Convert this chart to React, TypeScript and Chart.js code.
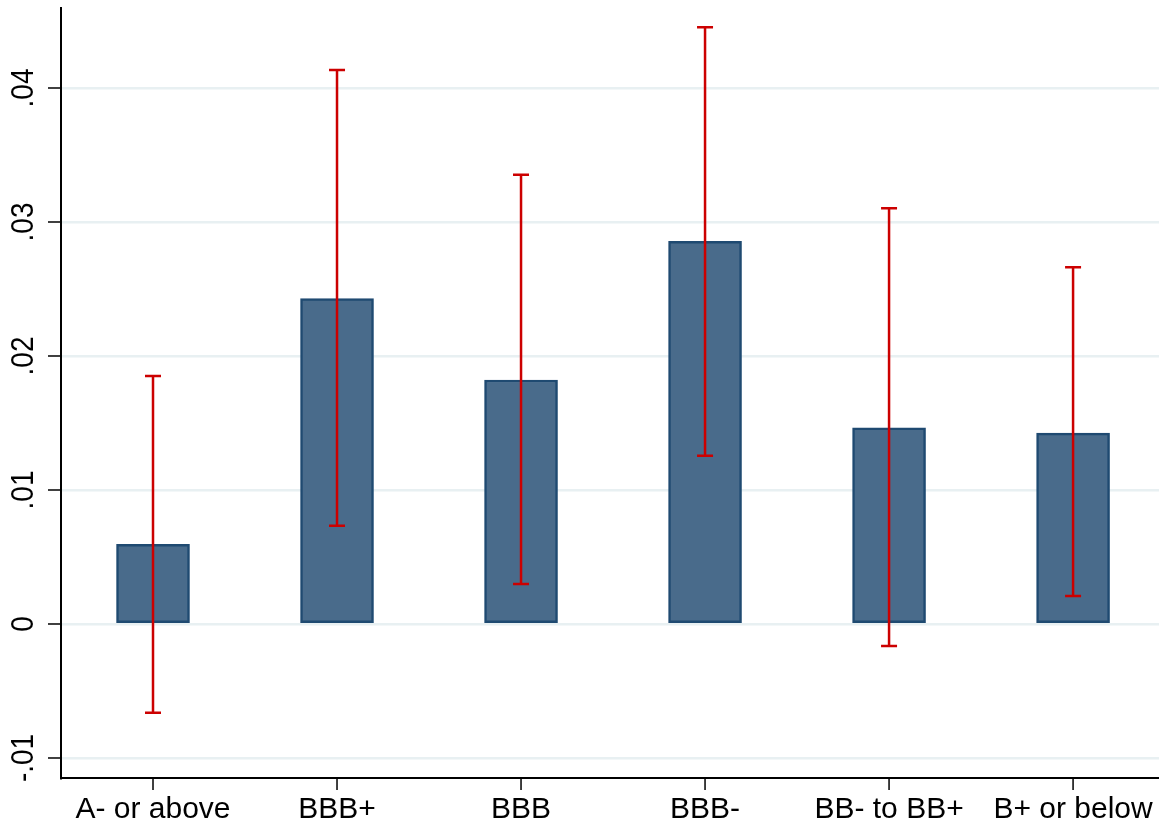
import React, { useEffect, useRef } from "react";
import { Chart, registerables } from "chart.js";

Chart.register(...registerables);

const categories = ["A- or above", "BBB+", "BBB", "BBB-", "BB- to BB+", "B+ or below"];
const estimates = [0.00595, 0.02428, 0.01821, 0.02856, 0.01463, 0.01425];
const ciLower = [-0.00662, 0.00734, 0.00299, 0.01256, -0.00164, 0.00209];
const ciUpper = [0.01851, 0.04134, 0.03353, 0.04453, 0.03102, 0.02662];
const yTicks = [-0.01, 0, 0.01, 0.02, 0.03, 0.04];
const yTickLabels = ["-.01", "0", ".01", ".02", ".03", ".04"];

const FONT_FAMILY = "'Liberation Sans', Arial, Helvetica, sans-serif";

const overlayPlugin = {
  id: "stataOverlay",
  afterDatasetsDraw(chart: any) {
    const { ctx, scales } = chart;
    const xs = scales.x;
    const ys = scales.y;
    ctx.save();
    ctx.strokeStyle = "#CC0000";
    ctx.lineWidth = 2.5;
    ctx.lineCap = "butt";
    for (let i = 0; i < categories.length; i++) {
      const x = xs.getPixelForValue(i);
      const yl = ys.getPixelForValue(ciLower[i]);
      const yh = ys.getPixelForValue(ciUpper[i]);
      ctx.beginPath();
      ctx.moveTo(x, yl);
      ctx.lineTo(x, yh);
      ctx.moveTo(x - 8, yl);
      ctx.lineTo(x + 8, yl);
      ctx.moveTo(x - 8, yh);
      ctx.lineTo(x + 8, yh);
      ctx.stroke();
    }
    ctx.restore();
  },
  afterDraw(chart: any) {
    const { ctx, scales, chartArea } = chart;
    const xs = scales.x;
    const ys = scales.y;
    ctx.save();
    ctx.strokeStyle = "#000000";
    ctx.lineWidth = 1.5;
    ctx.fillStyle = "#000000";
    ctx.font = `28px ${FONT_FAMILY}`;
    ctx.textAlign = "center";
    ctx.textBaseline = "alphabetic";
    for (let i = 0; i < yTicks.length; i++) {
      const y = ys.getPixelForValue(yTicks[i]);
      ctx.beginPath();
      ctx.moveTo(chartArea.left - 13, y);
      ctx.lineTo(chartArea.left, y);
      ctx.stroke();
      ctx.save();
      ctx.translate(33, y);
      ctx.rotate(-Math.PI / 2);
      ctx.scale(1, 1.12);
      ctx.fillText(yTickLabels[i], 0, 0);
      ctx.restore();
    }
    ctx.font = `30px ${FONT_FAMILY}`;
    for (let i = 0; i < categories.length; i++) {
      const x = xs.getPixelForValue(i);
      ctx.beginPath();
      ctx.moveTo(x, chartArea.bottom);
      ctx.lineTo(x, chartArea.bottom + 12);
      ctx.stroke();
      ctx.fillText(categories[i], x, 818);
    }
    ctx.restore();
  },
};

export default function App() {
  const canvasRef = useRef<HTMLCanvasElement | null>(null);

  useEffect(() => {
    if (!canvasRef.current) return;
    const chart = new Chart(canvasRef.current, {
      type: "bar",
      data: {
        datasets: [
          {
            data: estimates.map((v, i) => ({ x: i, y: v })),
            backgroundColor: "#496B8B",
            borderColor: "#1F4A71",
            borderWidth: 2.5,
            borderSkipped: false,
            barThickness: 73,
          },
        ],
      },
      options: {
        animation: false,
        responsive: true,
        maintainAspectRatio: false,
        layout: { padding: { left: 61, top: 8, right: 0, bottom: 47 } },
        plugins: {
          legend: { display: false },
          tooltip: { enabled: false },
        },
        scales: {
          x: {
            type: "linear",
            min: -0.5,
            max: 5.467,
            offset: false,
            ticks: { display: false, stepSize: 1, includeBounds: false },
            grid: { display: false, drawTicks: false },
            border: { display: true, color: "#000000", width: 2 },
          },
          y: {
            type: "linear",
            min: -0.011493,
            max: 0.04597,
            ticks: { display: false, stepSize: 0.01, includeBounds: false },
            grid: { color: "#E8F0F2", lineWidth: 2.5, drawTicks: false },
            border: { display: true, color: "#000000", width: 2 },
          },
        },
      },
      plugins: [overlayPlugin],
    });
    return () => chart.destroy();
  }, []);

  return (
    <div style={{ position: "fixed", left: 0, top: 0, width: 1159, height: 825, background: "#ffffff" }}>
      <canvas ref={canvasRef} />
    </div>
  );
}
